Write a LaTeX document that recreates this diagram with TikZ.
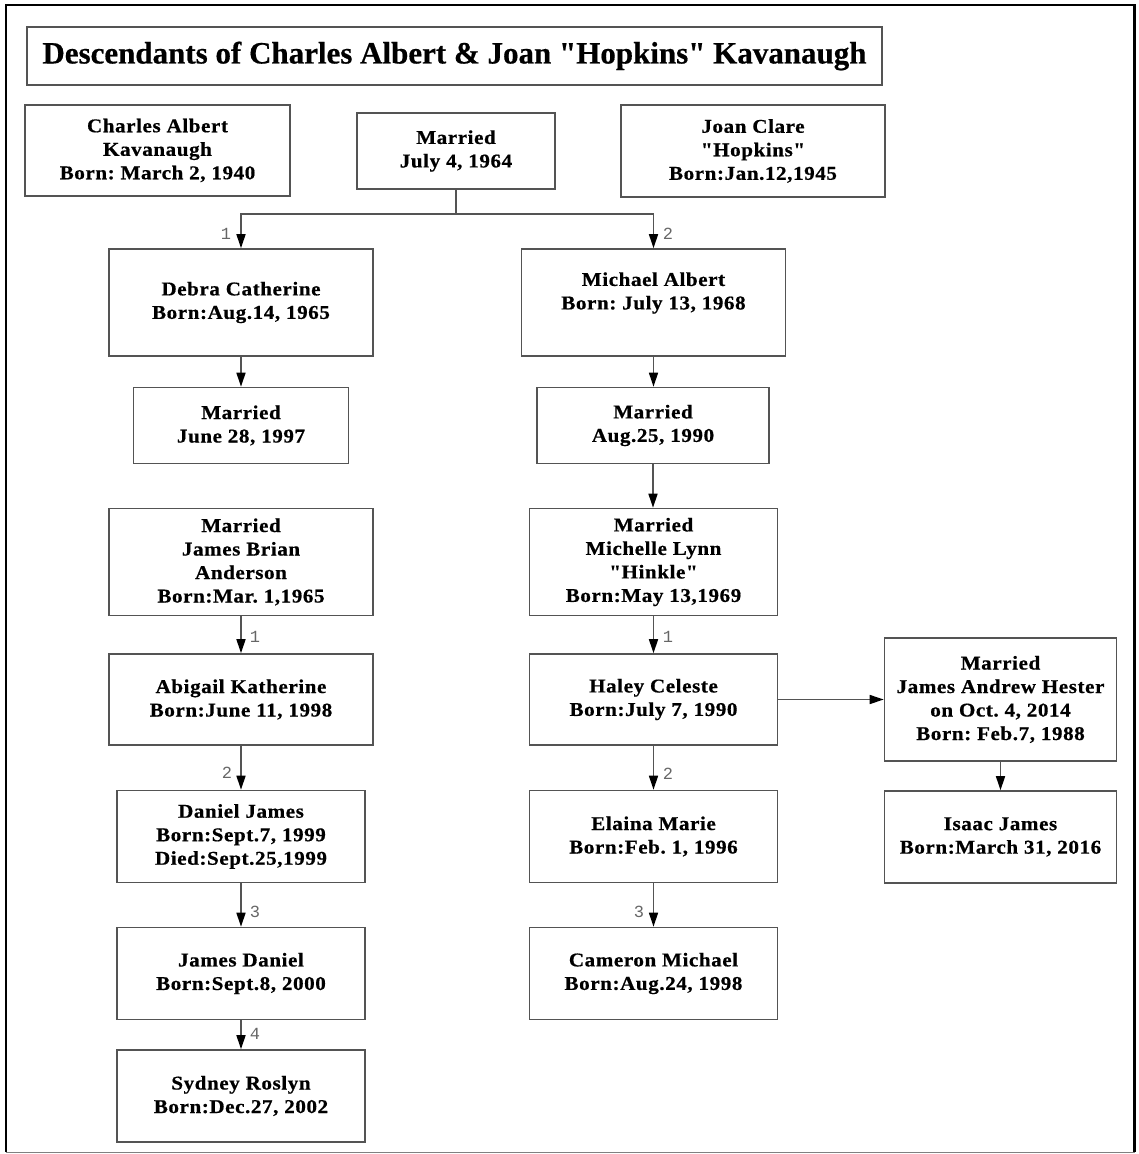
\documentclass[tikz,border=0pt]{standalone}
\usepackage{fontspec}
\setmainfont{Liberation Serif}
\setmonofont{Liberation Mono}
\newfontfamily\boxfont{Liberation Serif}[FakeStretch=1.08,LetterSpace=3,BoldFeatures={FakeBold=0.6}]
\newfontfamily\titlefont{Liberation Serif}[BoldFeatures={FakeBold=0.5}]
\usetikzlibrary{arrows.meta}
\definecolor{boxline}{gray}{0.33}
\definecolor{lbl}{gray}{0.4}
\frenchspacing
\begin{document}
\begin{tikzpicture}[x=1pt,y=-1pt,
  box/.style={draw=boxline, line width=1.6pt, inner sep=0pt, align=center,
    font=\boxfont\bfseries\fontsize{19.5}{23.5}\selectfont, text=black},
  conn/.style={draw=boxline, line width=1.5pt},
  arr/.style={conn, -{Triangle[length=14pt,width=9pt,color=black]}},
  num/.style={font=\ttfamily\fontsize{17}{17}\selectfont, text=lbl, inner sep=0pt}]
\useasboundingbox (0,0) rectangle (1138,1154);
% frame
\draw[black, line width=2.8pt] (6,1152) -- (6,5) -- (1134.5,5) -- (1134.5,1152);
\draw[gray, line width=1pt] (6,1152.5) -- (1134.5,1152.5);
% title
\node[box, minimum width=855pt, minimum height=58pt, font=\titlefont\bfseries\fontsize{31}{36}\selectfont]
  (title) at (454.5,56) {Descendants of Charles Albert \& Joan "Hopkins" Kavanaugh};
% generation 0
\node[box, minimum width=265pt, minimum height=91pt] (charles) at (157.5,150.5)
  {Charles Albert\\Kavanaugh\\Born: March 2, 1940};
\node[box, minimum width=198pt, minimum height=76pt] (m1964) at (456,151)
  {Married\\July 4, 1964};
\node[box, minimum width=264pt, minimum height=92pt] (joan) at (753,151)
  {Joan Clare\\"Hopkins"\\Born:Jan.12,1945};
% generation 1
\node[box, minimum width=264pt, minimum height=107pt] (debra) at (241,302.5)
  {Debra Catherine\\Born:Aug.14, 1965};
\node[box, minimum width=264pt, minimum height=107pt] (michael) at (653.5,302.5) {};
\node[align=center, inner sep=0pt, font=\boxfont\bfseries\fontsize{19.5}{23.5}\selectfont]
  (michaeltxt) at (653.5,293) {Michael Albert\\Born: July 13, 1968};
\node[box, minimum width=215pt, minimum height=76pt] (m1997) at (241,425.5)
  {Married\\June 28, 1997};
\node[box, minimum width=232pt, minimum height=76pt] (m1990) at (653,425.5)
  {Married\\Aug.25, 1990};
\node[box, minimum width=264pt, minimum height=107pt] (anderson) at (241,562)
  {Married\\James Brian\\Anderson\\Born:Mar. 1,1965};
\node[box, minimum width=248pt, minimum height=107pt] (hinkle) at (653.5,562)
  {Married\\Michelle Lynn\\"Hinkle"\\Born:May 13,1969};
% generation 2
\node[box, minimum width=264pt, minimum height=91pt] (abigail) at (241,699.5)
  {Abigail Katherine\\Born:June 11, 1998};
\node[box, minimum width=248pt, minimum height=91pt] (haley) at (653.5,699.5)
  {Haley Celeste\\Born:July 7, 1990};
\node[box, minimum width=232pt, minimum height=123pt] (hester) at (1000.5,699.5)
  {Married\\James Andrew Hester\\on Oct. 4, 2014\\Born: Feb.7, 1988};
\node[box, minimum width=232pt, minimum height=92pt] (isaac) at (1000.5,837)
  {Isaac James\\Born:March 31, 2016};
\node[box, minimum width=248pt, minimum height=92pt] (daniel) at (241,836.5)
  {Daniel James\\Born:Sept.7, 1999\\Died:Sept.25,1999};
\node[box, minimum width=248pt, minimum height=92pt] (elaina) at (653.5,836.5)
  {Elaina Marie\\Born:Feb. 1, 1996};
\node[box, minimum width=248pt, minimum height=92pt] (jamesd) at (241,973.5)
  {James Daniel\\Born:Sept.8, 2000};
\node[box, minimum width=248pt, minimum height=92pt] (cameron) at (653.5,973.5)
  {Cameron Michael\\Born:Aug.24, 1998};
\node[box, minimum width=248pt, minimum height=92pt] (sydney) at (241,1096)
  {Sydney Roslyn\\Born:Dec.27, 2002};
% connectors
\coordinate (split) at (456,214);
\draw[conn] (m1964.south) -- (split);
\draw[arr] (split) -| (debra.north);
\draw[arr] (split) -| (michael.north);
\draw[arr] (debra.south) -- (debra.south |- m1997.north);
\draw[arr] (michael.south) -- (michael.south |- m1990.north);
\draw[arr] (m1990.south) -- (m1990.south |- hinkle.north);
\draw[arr] (anderson.south) -- (abigail.north);
\draw[arr] (hinkle.south) -- (haley.north);
\draw[arr] (haley.east) -- (hester.west);
\draw[arr] (hester.south) -- (isaac.north);
\draw[arr] (abigail.south) -- (daniel.north);
\draw[arr] (haley.south) -- (elaina.north);
\draw[arr] (daniel.south) -- (jamesd.north);
\draw[arr] (elaina.south) -- (cameron.north);
\draw[arr] (jamesd.south) -- (sydney.north);
% order labels
\node[num] (n1) at (226,234) {1};
\node[num] (n2) at (668,234) {2};
\node[num] (n3) at (255,637) {1};
\node[num] (n4) at (668,637) {1};
\node[num] (n5) at (227,773) {2};
\node[num] (n6) at (668,774) {2};
\node[num] (n7) at (255,912) {3};
\node[num] (n8) at (639,912) {3};
\node[num] (n9) at (255,1034) {4};
\end{tikzpicture}
\end{document}
